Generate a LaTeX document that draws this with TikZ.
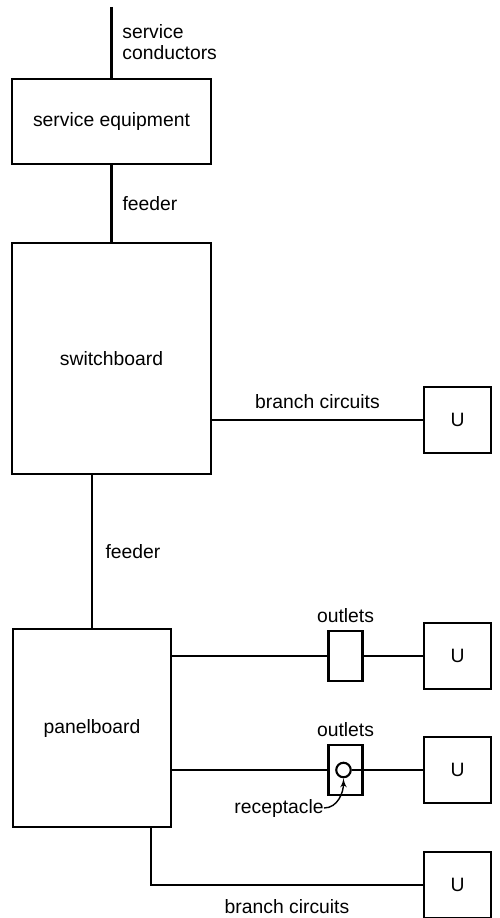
\documentclass[tikz,border=0pt]{standalone}
\usepackage{fontspec}
\setmainfont{Liberation Sans}
\usetikzlibrary{arrows, positioning}

\begin{document}
\begin{tikzpicture}[
    node distance=3cm,
    txt/.style={font=\fontsize{11}{12}\selectfont},
    block/.style={rectangle, draw, line width=1.2pt, txt, text centered, minimum width=3.97cm},
    ubox/.style={rectangle, draw, line width=1.2pt, txt, minimum width=1.33cm, minimum height=1.33cm},
    outlet/.style={rectangle, draw, line width=1.2pt, minimum width=0.68cm, minimum height=1.01cm, inner sep=0pt},
    lab/.style={txt, inner sep=0pt},
    wire/.style={draw, line width=1.2pt},
    pointer/.style={draw, -latex', line width=0.8pt}
]
\useasboundingbox (0,0) rectangle (9.98,-18.36);

\node [block, minimum height=1.7cm] (equip) at (2.23,-2.43) {service equipment};
\node [block, minimum height=4.63cm, below of=equip, node distance=4.74cm] (switchboard) {switchboard};
\node [block, minimum width=3.15cm, minimum height=3.95cm] (panelboard) at (1.84,-14.56) {panelboard};

\node [ubox] (u1) at (9.15,-8.4) {U};
\node [ubox, below of=u1, node distance=4.72cm] (u2) {U};
\node [ubox, below of=u2, node distance=2.28cm] (u3) {U};
\node [ubox, below of=u3, node distance=2.3cm] (u4) {U};

\node [outlet, left of=u2, node distance=2.24cm] (out1) {};
\node [outlet, left of=u3, node distance=2.24cm] (out2) {};
\node [circle, draw, line width=1.2pt, minimum size=0.29cm, inner sep=0pt, left of=u3, node distance=2.28cm] (recp) {};
\node [lab, above=0.13cm of out1] {outlets};
\node [lab, above=0.13cm of out2] {outlets};
\node [lab] (rec) at (5.58,-16.16) {receptacle};

\coordinate (supply) at (2.23,-0.14);
\node [lab, align=left, anchor=west] at (2.44,-0.85) {service\\conductors};

\path [wire] (supply) -- (equip.north);
\path [wire] (equip.south) -- node [lab, right=0.2cm] {feeder} (switchboard.north);
\path [wire] (u1.west -| switchboard.east) -- node [lab, above=0.2cm] {branch circuits} (u1.west);
\path [wire] (panelboard.north) -- node [lab, right=0.25cm] {feeder} (panelboard.north |- switchboard.south);

\path [wire] (out1.west -| panelboard.east) -- (out1.west);
\path [wire] (out1.east) -- (u2.west);
\path [wire] (out2.west -| panelboard.east) -- (out2.west);
\path [wire] (recp.east) -- (u3.west);
\path [wire] ([xshift=-0.42cm]panelboard.south east) |- node [lab, pos=0.75, below=0.26cm] {branch circuits} (u4.west);

\path [pointer] (rec.east) to [out=0, in=-90] (recp.south);

\end{tikzpicture}
\end{document}
